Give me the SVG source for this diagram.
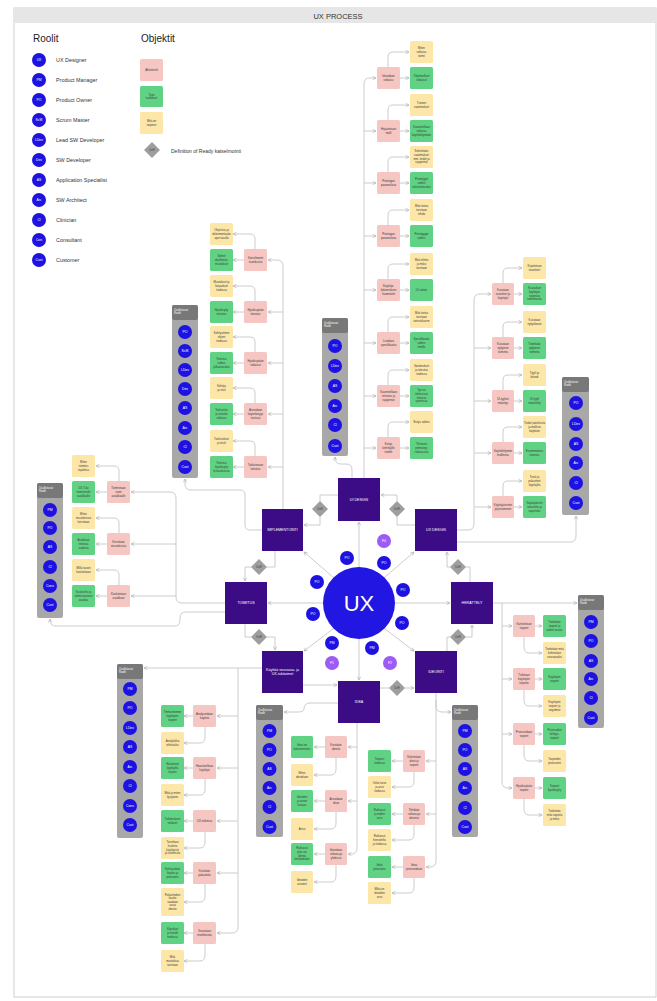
<svg xmlns="http://www.w3.org/2000/svg" width="657" height="1001" viewBox="0 0 657 1001">
<style>
text{font-family:"Liberation Sans",Arial,sans-serif}
.pk{fill:#f5c6c2}.gr{fill:#5fd383}.ye{fill:#fde7a8}
.bt{font-size:2.8px;fill:#3a3a3a;text-anchor:middle}
.ln{fill:none;stroke:#c6c6c6;stroke-width:0.9}
.a{marker-end:url(#ah)}
.ph{fill:#3c0b86}
.pt{font-size:3.6px;fill:#fff;text-anchor:middle}
.rc{fill:#1d12e2}
.fc{fill:#9d5cf3}
.rt{font-size:3.4px;fill:#fff;text-anchor:middle}
.pn{fill:#a8a8a8}
.phd{fill:#787878}
.ht{font-size:2.7px;fill:#fff}
.dm{fill:#9e9e9e}
.dt{font-size:2.8px;fill:#444;text-anchor:middle}
.lg{font-size:5.4px;fill:#333}
</style>
<defs>
<marker id="ah" viewBox="0 0 8 8" refX="7" refY="4" markerWidth="4.5" markerHeight="4.5" orient="auto" markerUnits="userSpaceOnUse"><path d="M1,1 L7,4 L1,7" fill="none" stroke="#b0b0b0" stroke-width="1.2"/></marker>
</defs>
<rect x="0" y="0" width="657" height="1001" fill="#fff"/>
<rect x="14" y="8" width="642" height="989" fill="#fff" stroke="#cfcfcf" stroke-width="1"/>
<rect x="14" y="8" width="642" height="15" fill="#e6e6e6"/>
<text x="338" y="18.5" font-size="7.5" fill="#333" text-anchor="middle">UX PROCESS</text>

<g id="legend">
<text x="33" y="42" font-size="10" fill="#222">Roolit</text>
<text x="141" y="42" font-size="10" fill="#222">Objektit</text>
<circle class="rc" cx="39" cy="60" r="7"/><text class="rt" x="39" y="61.2">UX</text><text class="lg" x="56" y="62">UX Designer</text>
<circle class="rc" cx="39" cy="80" r="7"/><text class="rt" x="39" y="81.2">PM</text><text class="lg" x="56" y="82">Product Manager</text>
<circle class="rc" cx="39" cy="100" r="7"/><text class="rt" x="39" y="101.2">PO</text><text class="lg" x="56" y="102">Product Owner</text>
<circle class="rc" cx="39" cy="120" r="7"/><text class="rt" x="39" y="121.2">ScM</text><text class="lg" x="56" y="122">Scrum Master</text>
<circle class="rc" cx="39" cy="140" r="7"/><text class="rt" x="39" y="141.2">LDev</text><text class="lg" x="56" y="142">Lead SW Developer</text>
<circle class="rc" cx="39" cy="160" r="7"/><text class="rt" x="39" y="161.2">Dev</text><text class="lg" x="56" y="162">SW Developer</text>
<circle class="rc" cx="39" cy="180" r="7"/><text class="rt" x="39" y="181.2">AS</text><text class="lg" x="56" y="182">Application Specialist</text>
<circle class="rc" cx="39" cy="200" r="7"/><text class="rt" x="39" y="201.2">Arc</text><text class="lg" x="56" y="202">SW Architect</text>
<circle class="rc" cx="39" cy="220" r="7"/><text class="rt" x="39" y="221.2">Cl</text><text class="lg" x="56" y="222">Clinician</text>
<circle class="rc" cx="39" cy="240" r="7"/><text class="rt" x="39" y="241.2">Con</text><text class="lg" x="56" y="242">Consultant</text>
<circle class="rc" cx="39" cy="260" r="7"/><text class="rt" x="39" y="261.2">Cust</text><text class="lg" x="56" y="262">Customer</text>
<rect class="pk" x="140" y="59" width="23" height="22" rx="1.5"/><text class="bt" x="151.5" y="71">Aktiviteetti</text>
<rect class="gr" x="140" y="86" width="23" height="21" rx="1.5"/><text class="bt" x="151.5" y="95.5">Työn<tspan x="151.5" dy="3.6">tuotokset</tspan></text>
<rect class="ye" x="140" y="112" width="23" height="22" rx="1.5"/><text class="bt" x="151.5" y="122">Mitä on<tspan x="151.5" dy="3.6">tarpeen</tspan></text>
<polygon class="dm" points="152,142 160,150 152,158 144,150"/><text class="dt" x="152" y="151">DoR</text>
<text x="171" y="152.5" font-size="5" fill="#333">Definition of Ready katselmointi</text>
</g>

<g id="connectors">
<!-- radial -->
<path class="ln a" d="M359,567 V522"/>
<path class="ln a" d="M384.5,577.5 L414,552"/>
<path class="ln a" d="M333.5,577.5 L304,552"/>
<path class="ln a" d="M323,603 H268"/>
<path class="ln a" d="M395,603 H450"/>
<path class="ln a" d="M333.5,628.5 L304,651"/>
<path class="ln a" d="M384.5,628.5 L414,651"/>
<path class="ln a" d="M359,639 V680"/>
<!-- phase flow via DoR -->
<path class="ln" d="M470,582 V567 H466"/><path class="ln a" d="M450,567 H447 V552"/>
<path class="ln" d="M415,525 H397 V517"/><path class="ln a" d="M397,501 V495 H381"/>
<path class="ln" d="M338,495 H320 V501"/><path class="ln a" d="M320,517 V525 H304"/>
<path class="ln" d="M275,551 V567 H267"/><path class="ln a" d="M251,567 H245 V581"/>
<path class="ln" d="M245,624 V637 H251"/><path class="ln a" d="M267,637 H275 V650"/>
<path class="ln a" d="M303,685 H337"/>
<path class="ln" d="M380,688 H389"/><path class="ln a" d="M405,688 H414"/>
<path class="ln" d="M447,651 V637 H450"/><path class="ln a" d="M466,637 H472 V625"/>
<!-- UI DESIGN -->
<path class="ln a" d="M352,478 V470 Q352,464 346,464 H341 Q335,464 335,458 V457"/>
<path class="ln a" d="M364,478 V84 Q364,78 370,78 H376"/>
<path class="ln a" d="M364,131 H376"/><path class="ln a" d="M364,183 H376"/><path class="ln a" d="M364,236 H376"/><path class="ln a" d="M364,290 H376"/><path class="ln a" d="M364,343 H376"/><path class="ln a" d="M364,396 H376"/><path class="ln a" d="M364,448 H376"/>
<path class="ln a" d="M400,78 H409"/><path class="ln a" d="M400,131 H409"/><path class="ln a" d="M400,183 H409"/><path class="ln a" d="M400,236 H409"/><path class="ln a" d="M400,290 H409"/><path class="ln a" d="M400,343 H409"/><path class="ln a" d="M400,396 H409"/><path class="ln a" d="M400,448 H409"/>
<path class="ln a" d="M388,67 V57 Q388,52 393,52 H409"/><path class="ln a" d="M388,120 V110 Q388,105 393,105 H409"/><path class="ln a" d="M388,172 V162 Q388,157 393,157 H409"/><path class="ln a" d="M388,225 V215 Q388,210 393,210 H409"/><path class="ln a" d="M388,279 V269 Q388,264 393,264 H409"/><path class="ln a" d="M388,332 V322 Q388,317 393,317 H409"/><path class="ln a" d="M388,385 V375 Q388,370 393,370 H409"/><path class="ln a" d="M388,437 V427 Q388,422 393,422 H409"/>
<!-- UX DESIGN -->
<path class="ln a" d="M457,530 H468 Q474,530 474,524 V300 Q474,294 480,294 H491"/>
<path class="ln a" d="M474,348 H491"/><path class="ln a" d="M474,401 H491"/><path class="ln a" d="M474,453 H491"/><path class="ln a" d="M474,507 H491"/>
<path class="ln a" d="M457,542 H570 Q576,542 576,536 V516"/>
<path class="ln a" d="M514,294 H522"/><path class="ln a" d="M514,348 H522"/><path class="ln a" d="M514,401 H522"/><path class="ln a" d="M514,453 H522"/><path class="ln a" d="M514,507 H522"/>
<path class="ln a" d="M503,283 V273 Q503,268 508,268 H522"/><path class="ln a" d="M503,337 V327 Q503,322 508,322 H522"/><path class="ln a" d="M503,390 V380 Q503,375 508,375 H522"/><path class="ln a" d="M503,442 V432 Q503,427 508,427 H522"/><path class="ln a" d="M503,496 V486 Q503,481 508,481 H522"/>
<!-- IMPLEMENTOINTI -->
<path class="ln a" d="M283,509 V266 Q283,260 277,260 H268"/>
<path class="ln a" d="M283,312 H268"/><path class="ln a" d="M283,363 H268"/><path class="ln a" d="M283,414 H268"/><path class="ln a" d="M283,467 H268"/>
<path class="ln a" d="M262,530 H250 Q245,530 245,525 V495 Q245,490 240,490 H191 Q185,490 185,484 V479"/>
<path class="ln a" d="M244,260 H233"/><path class="ln a" d="M244,312 H233"/><path class="ln a" d="M244,363 H233"/><path class="ln a" d="M244,414 H233"/><path class="ln a" d="M244,467 H233"/>
<path class="ln a" d="M255,249 V239 Q255,234 250,234 H233"/><path class="ln a" d="M255,301 V291 Q255,286 250,286 H233"/><path class="ln a" d="M255,352 V342 Q255,337 250,337 H233"/><path class="ln a" d="M255,403 V393 Q255,388 250,388 H233"/><path class="ln a" d="M255,456 V446 Q255,441 250,441 H233"/>
<!-- TOIMITUS -->
<path class="ln a" d="M225,603 H182 Q176,603 176,597 V498 Q176,492 170,492 H131"/>
<path class="ln a" d="M176,544 H131"/><path class="ln a" d="M176,596 H131"/>
<path class="ln a" d="M225,612 H186 Q180,612 180,618 V620 Q180,626 174,626 H56 Q50,626 50,620 V619"/>
<path class="ln a" d="M107,492 H96"/><path class="ln a" d="M107,544 H96"/><path class="ln a" d="M107,596 H96"/>
<path class="ln a" d="M119,481 V471 Q119,466 114,466 H96"/><path class="ln a" d="M119,533 V523 Q119,518 114,518 H96"/><path class="ln a" d="M119,585 V575 Q119,570 114,570 H96"/>
<!-- KAYTTO -->
<path class="ln a" d="M262,668 H144"/>
<path class="ln a" d="M238,668 V927 Q238,933 232,933 H217"/>
<path class="ln a" d="M238,716 H217"/><path class="ln a" d="M238,768 H217"/><path class="ln a" d="M238,821 H217"/><path class="ln a" d="M238,873 H217"/>
<path class="ln a" d="M193,716 H184"/><path class="ln a" d="M193,768 H184"/><path class="ln a" d="M193,821 H184"/><path class="ln a" d="M193,873 H184"/><path class="ln a" d="M193,933 H184"/>
<path class="ln a" d="M205,727 V737 Q205,743 200,743 H184"/><path class="ln a" d="M205,779 V789 Q205,795 200,795 H184"/><path class="ln a" d="M205,832 V842 Q205,848 200,848 H184"/><path class="ln a" d="M205,884 V896 Q205,902 200,902 H184"/><path class="ln a" d="M205,944 V955 Q205,961 200,961 H184"/>
<!-- IDEA -->
<path class="ln a" d="M357,723 V848 Q357,854 351,854 H348"/>
<path class="ln a" d="M357,747 H348"/><path class="ln a" d="M357,801 H348"/>
<path class="ln a" d="M338,703 H310 Q304,703 304,709 Q304,712 298,712 H284"/>
<path class="ln a" d="M325,747 H314"/><path class="ln a" d="M325,801 H314"/><path class="ln a" d="M325,854 H314"/>
<path class="ln a" d="M336,758 V769 Q336,775 331,775 H314"/><path class="ln a" d="M336,812 V823 Q336,829 331,829 H314"/><path class="ln a" d="M336,865 V876 Q336,882 331,882 H314"/>
<!-- IDEOINTI -->
<path class="ln a" d="M436,693 V861 Q436,867 430,867 H426"/>
<path class="ln a" d="M436,761 H426"/><path class="ln a" d="M436,814 H426"/>
<path class="ln a" d="M436,700 V706 Q436,712 442,712 H451"/>
<path class="ln a" d="M403,761 H392"/><path class="ln a" d="M403,814 H392"/><path class="ln a" d="M403,867 H392"/>
<path class="ln a" d="M414,772 V781 Q414,787 409,787 H392"/><path class="ln a" d="M414,825 V834 Q414,840 409,840 H392"/><path class="ln a" d="M414,878 V887 Q414,893 409,893 H392"/>
<!-- HERATTELY -->
<path class="ln a" d="M493,603 H577"/>
<path class="ln a" d="M502,603 V782 Q502,788 508,788 H512"/>
<path class="ln a" d="M502,626 H512"/><path class="ln a" d="M502,679 H512"/><path class="ln a" d="M502,734 H512"/>
<path class="ln a" d="M535,626 H542"/><path class="ln a" d="M535,679 H542"/><path class="ln a" d="M535,734 H542"/><path class="ln a" d="M535,788 H542"/>
<path class="ln a" d="M524,637 V647 Q524,653 529,653 H542"/><path class="ln a" d="M524,690 V700 Q524,706 529,706 H542"/><path class="ln a" d="M524,745 V755 Q524,761 529,761 H542"/><path class="ln a" d="M524,799 V809 Q524,815 529,815 H542"/>
</g>

<g id="dor-gates">
<polygon class="dm" points="397,501 405,509 397,517 389,509"/><text class="dt" x="397" y="510">DoR</text>
<polygon class="dm" points="320,501 328,509 320,517 312,509"/><text class="dt" x="320" y="510">DoR</text>
<polygon class="dm" points="259,559 267,567 259,575 251,567"/><text class="dt" x="259" y="568">DoR</text>
<polygon class="dm" points="458,559 466,567 458,575 450,567"/><text class="dt" x="458" y="568">DoR</text>
<polygon class="dm" points="259,629 267,637 259,645 251,637"/><text class="dt" x="259" y="638">DoR</text>
<polygon class="dm" points="458,629 466,637 458,645 450,637"/><text class="dt" x="458" y="638">DoR</text>
<polygon class="dm" points="397,680 405,688 397,696 389,688"/><text class="dt" x="397" y="689">DoR</text>
</g>

<g id="ux-core">
<circle cx="359" cy="603" r="36" fill="#2216e2"/>
<text x="359" y="611" font-size="22" fill="#fff" text-anchor="middle">UX</text>
<circle class="rc" cx="347" cy="558" r="7"/><text class="rt" x="347" y="559.2">PO</text>
<circle class="rc" cx="384" cy="563" r="7"/><text class="rt" x="384" y="564.2">PO</text>
<circle class="rc" cx="317" cy="582" r="7"/><text class="rt" x="317" y="583.2">PO</text>
<circle class="rc" cx="403" cy="590" r="7"/><text class="rt" x="403" y="591.2">PO</text>
<circle class="rc" cx="313" cy="614" r="7"/><text class="rt" x="313" y="615.2">PO</text>
<circle class="rc" cx="402" cy="623" r="7"/><text class="rt" x="402" y="624.2">PO</text>
<circle class="rc" cx="332" cy="643" r="7"/><text class="rt" x="332" y="644.2">PM</text>
<circle class="rc" cx="372" cy="648" r="7"/><text class="rt" x="372" y="649.2">PM</text>
<circle class="fc" cx="384" cy="541" r="7"/><text class="rt" x="384" y="542.2">F4</text>
<circle class="fc" cx="332" cy="663" r="7"/><text class="rt" x="332" y="664.2">F1</text>
<circle class="fc" cx="390" cy="663" r="7"/><text class="rt" x="390" y="664.2">F2</text>
</g>

<g id="phase-ui-design"><rect class="ph" x="338" y="478" width="42" height="43"/><text class="pt" x="359" y="500.5">UI DESIGN</text></g>
<g id="phase-implementointi"><rect class="ph" x="262" y="509" width="41" height="42"/><text class="pt" x="282.5" y="531">IMPLEMENTOINTI</text></g>
<g id="phase-ux-design"><rect class="ph" x="415" y="509" width="42" height="42"/><text class="pt" x="436" y="531">UX DESIGN</text></g>
<g id="phase-toimitus"><rect class="ph" x="225" y="582" width="42" height="42"/><text class="pt" x="246" y="604">TOIMITUS</text></g>
<g id="phase-herattely"><rect class="ph" x="451" y="582" width="42" height="42"/><text class="pt" x="472" y="604">HERÄTTELY</text></g>
<g id="phase-kaytto"><rect class="ph" x="262" y="651" width="41" height="42"/><text class="pt" x="282.5" y="671">Käyttöä seuraava- ja<tspan x="282.5" dy="4.4">UX-tukitoimet</tspan></text></g>
<g id="phase-ideointi"><rect class="ph" x="415" y="651" width="42" height="42"/><text class="pt" x="436" y="673">IDEOINTI</text></g>
<g id="phase-idea"><rect class="ph" x="338" y="681" width="42" height="42"/><text class="pt" x="359" y="703">IDEA</text></g>

<g id="roles-ui-design">
<rect class="pn" x="322" y="318" width="26" height="138" rx="2"/><rect class="phd" x="322" y="318" width="26" height="15" rx="2"/>
<text class="ht" x="324" y="324">Osallistuvat<tspan x="324" dy="3.4">Roolit</tspan></text>
<circle class="rc" cx="335" cy="346" r="7"/><text class="rt" x="335" y="347.2">PO</text>
<circle class="rc" cx="335" cy="366" r="7"/><text class="rt" x="335" y="367.2">LDev</text>
<circle class="rc" cx="335" cy="386" r="7"/><text class="rt" x="335" y="387.2">AS</text>
<circle class="rc" cx="335" cy="406" r="7"/><text class="rt" x="335" y="407.2">Arc</text>
<circle class="rc" cx="335" cy="425" r="7"/><text class="rt" x="335" y="426.2">Cl</text>
<circle class="rc" cx="335" cy="446" r="7"/><text class="rt" x="335" y="447.2">Cust</text>
</g>
<g id="roles-ux-design">
<rect class="pn" x="562" y="377" width="27" height="138" rx="2"/><rect class="phd" x="562" y="377" width="27" height="15" rx="2"/>
<text class="ht" x="564" y="383">Osallistuvat<tspan x="564" dy="3.4">Roolit</tspan></text>
<circle class="rc" cx="576" cy="403" r="7"/><text class="rt" x="576" y="404.2">PO</text>
<circle class="rc" cx="576" cy="424" r="7"/><text class="rt" x="576" y="425.2">LDev</text>
<circle class="rc" cx="576" cy="444" r="7"/><text class="rt" x="576" y="445.2">AS</text>
<circle class="rc" cx="576" cy="463" r="7"/><text class="rt" x="576" y="464.2">Arc</text>
<circle class="rc" cx="576" cy="483" r="7"/><text class="rt" x="576" y="484.2">Cl</text>
<circle class="rc" cx="576" cy="503" r="7"/><text class="rt" x="576" y="504.2">Cust</text>
</g>
<g id="roles-implementointi">
<rect class="pn" x="172" y="305" width="26" height="173" rx="2"/><rect class="phd" x="172" y="305" width="26" height="15" rx="2"/>
<text class="ht" x="174" y="311">Osallistuvat<tspan x="174" dy="3.4">Roolit</tspan></text>
<circle class="rc" cx="185" cy="332" r="7"/><text class="rt" x="185" y="333.2">PO</text>
<circle class="rc" cx="185" cy="351" r="7"/><text class="rt" x="185" y="352.2">ScM</text>
<circle class="rc" cx="185" cy="370" r="7"/><text class="rt" x="185" y="371.2">LDev</text>
<circle class="rc" cx="185" cy="389" r="7"/><text class="rt" x="185" y="390.2">Dev</text>
<circle class="rc" cx="185" cy="408" r="7"/><text class="rt" x="185" y="409.2">AS</text>
<circle class="rc" cx="185" cy="428" r="7"/><text class="rt" x="185" y="429.2">Arc</text>
<circle class="rc" cx="185" cy="447" r="7"/><text class="rt" x="185" y="448.2">Cl</text>
<circle class="rc" cx="185" cy="467" r="7"/><text class="rt" x="185" y="468.2">Cust</text>
</g>
<g id="roles-toimitus">
<rect class="pn" x="37" y="483" width="26" height="135" rx="2"/><rect class="phd" x="37" y="483" width="26" height="15" rx="2"/>
<text class="ht" x="39" y="489">Osallistuvat<tspan x="39" dy="3.4">Roolit</tspan></text>
<circle class="rc" cx="50" cy="510" r="7"/><text class="rt" x="50" y="511.2">PM</text>
<circle class="rc" cx="50" cy="528" r="7"/><text class="rt" x="50" y="529.2">PO</text>
<circle class="rc" cx="50" cy="547" r="7"/><text class="rt" x="50" y="548.2">AS</text>
<circle class="rc" cx="50" cy="567" r="7"/><text class="rt" x="50" y="568.2">Cl</text>
<circle class="rc" cx="50" cy="586" r="7"/><text class="rt" x="50" y="587.2">Cons</text>
<circle class="rc" cx="50" cy="605" r="7"/><text class="rt" x="50" y="606.2">Cust</text>
</g>
<g id="roles-kaytto">
<rect class="pn" x="117" y="664" width="26" height="174" rx="2"/><rect class="phd" x="117" y="664" width="26" height="15" rx="2"/>
<text class="ht" x="119" y="670">Osallistuvat<tspan x="119" dy="3.4">Roolit</tspan></text>
<circle class="rc" cx="130" cy="689" r="7"/><text class="rt" x="130" y="690.2">PM</text>
<circle class="rc" cx="130" cy="708" r="7"/><text class="rt" x="130" y="709.2">PO</text>
<circle class="rc" cx="130" cy="728" r="7"/><text class="rt" x="130" y="729.2">LDev</text>
<circle class="rc" cx="130" cy="747" r="7"/><text class="rt" x="130" y="748.2">AS</text>
<circle class="rc" cx="130" cy="767" r="7"/><text class="rt" x="130" y="768.2">Arc</text>
<circle class="rc" cx="130" cy="786" r="7"/><text class="rt" x="130" y="787.2">Cl</text>
<circle class="rc" cx="130" cy="806" r="7"/><text class="rt" x="130" y="807.2">Cons</text>
<circle class="rc" cx="130" cy="825" r="7"/><text class="rt" x="130" y="826.2">Cust</text>
</g>
<g id="roles-idea">
<rect class="pn" x="256" y="705" width="27" height="132" rx="2"/><rect class="phd" x="256" y="705" width="27" height="15" rx="2"/>
<text class="ht" x="258" y="711">Osallistuvat<tspan x="258" dy="3.4">Roolit</tspan></text>
<circle class="rc" cx="269.5" cy="731" r="7"/><text class="rt" x="269.5" y="732.2">PM</text>
<circle class="rc" cx="269.5" cy="750" r="7"/><text class="rt" x="269.5" y="751.2">PO</text>
<circle class="rc" cx="269.5" cy="769" r="7"/><text class="rt" x="269.5" y="770.2">AS</text>
<circle class="rc" cx="269.5" cy="788" r="7"/><text class="rt" x="269.5" y="789.2">Arc</text>
<circle class="rc" cx="269.5" cy="807" r="7"/><text class="rt" x="269.5" y="808.2">Cl</text>
<circle class="rc" cx="269.5" cy="827" r="7"/><text class="rt" x="269.5" y="828.2">Cust</text>
</g>
<g id="roles-ideointi">
<rect class="pn" x="452" y="705" width="26" height="132" rx="2"/><rect class="phd" x="452" y="705" width="26" height="15" rx="2"/>
<text class="ht" x="454" y="711">Osallistuvat<tspan x="454" dy="3.4">Roolit</tspan></text>
<circle class="rc" cx="465" cy="731" r="7"/><text class="rt" x="465" y="732.2">PM</text>
<circle class="rc" cx="465" cy="750" r="7"/><text class="rt" x="465" y="751.2">PO</text>
<circle class="rc" cx="465" cy="769" r="7"/><text class="rt" x="465" y="770.2">AS</text>
<circle class="rc" cx="465" cy="788" r="7"/><text class="rt" x="465" y="789.2">Arc</text>
<circle class="rc" cx="465" cy="808" r="7"/><text class="rt" x="465" y="809.2">Cl</text>
<circle class="rc" cx="465" cy="827" r="7"/><text class="rt" x="465" y="828.2">Cust</text>
</g>
<g id="roles-herattely">
<rect class="pn" x="578" y="595" width="26" height="133" rx="2"/><rect class="phd" x="578" y="595" width="26" height="15" rx="2"/>
<text class="ht" x="580" y="601">Osallistuvat<tspan x="580" dy="3.4">Roolit</tspan></text>
<circle class="rc" cx="591" cy="622" r="7"/><text class="rt" x="591" y="623.2">PM</text>
<circle class="rc" cx="591" cy="641" r="7"/><text class="rt" x="591" y="642.2">PO</text>
<circle class="rc" cx="591" cy="661" r="7"/><text class="rt" x="591" y="662.2">AS</text>
<circle class="rc" cx="591" cy="679" r="7"/><text class="rt" x="591" y="680.2">Arc</text>
<circle class="rc" cx="591" cy="698" r="7"/><text class="rt" x="591" y="699.2">Cl</text>
<circle class="rc" cx="591" cy="718" r="7"/><text class="rt" x="591" y="719.2">Cust</text>
</g>

<g id="tasks-ui-design">
<rect class="pk" x="377" y="67" width="23" height="22" rx="1.5"/><text class="bt" x="388.5" y="77.2">Ideoidaan<tspan x="388.5" dy="3.6">ratkaisu</tspan></text>
<rect class="gr" x="410" y="67" width="23" height="22" rx="1.5"/><text class="bt" x="421.5" y="77.2">Ohjelmalliset<tspan x="421.5" dy="3.6">ratkaisut</tspan></text>
<rect class="ye" x="410" y="41" width="23" height="22" rx="1.5"/><text class="bt" x="421.5" y="49.3">Miten<tspan x="421.5" dy="3.6">ratkaisu</tspan><tspan x="421.5" dy="3.6">toimii</tspan></text>
<rect class="pk" x="377" y="120" width="23" height="22" rx="1.5"/><text class="bt" x="388.5" y="130.2">Hajautetaan<tspan x="388.5" dy="3.6">malli</tspan></text>
<rect class="gr" x="410" y="120" width="23" height="22" rx="1.5"/><text class="bt" x="421.5" y="128.3">Suunnitellaan<tspan x="421.5" dy="3.6">ratkaisu</tspan><tspan x="421.5" dy="3.6">käyttöliittymään</tspan></text>
<rect class="ye" x="410" y="94" width="23" height="22" rx="1.5"/><text class="bt" x="421.5" y="104.2">Tunnen<tspan x="421.5" dy="3.6">vaatimukset</tspan></text>
<rect class="pk" x="377" y="172" width="23" height="22" rx="1.5"/><text class="bt" x="388.5" y="182.2">Prototypoi<tspan x="388.5" dy="3.6">parannuksia</tspan></text>
<rect class="gr" x="410" y="172" width="23" height="22" rx="1.5"/><text class="bt" x="421.5" y="180.3">Prototyypit<tspan x="421.5" dy="3.6">valmiit</tspan><tspan x="421.5" dy="3.6">tarkistettavaksi</tspan></text>
<rect class="ye" x="410" y="146" width="23" height="22" rx="1.5"/><text class="bt" x="421.5" y="152.4">Selvitetään<tspan x="421.5" dy="3.6">vaatimukset</tspan><tspan x="421.5" dy="3.6">mm. tiedot ja</tspan><tspan x="421.5" dy="3.6">rajapinnat</tspan></text>
<rect class="pk" x="377" y="225" width="23" height="22" rx="1.5"/><text class="bt" x="388.5" y="235.2">Prototypoi<tspan x="388.5" dy="3.6">parannuksia</tspan></text>
<rect class="gr" x="410" y="225" width="23" height="22" rx="1.5"/><text class="bt" x="421.5" y="235.2">Prototyyppi<tspan x="421.5" dy="3.6">valmis</tspan></text>
<rect class="ye" x="410" y="199" width="23" height="22" rx="1.5"/><text class="bt" x="421.5" y="207.3">Mitä tietoa<tspan x="421.5" dy="3.6">tarvitaan</tspan><tspan x="421.5" dy="3.6">tehdä</tspan></text>
<rect class="pk" x="377" y="279" width="23" height="22" rx="1.5"/><text class="bt" x="388.5" y="287.3">Käyttäjä-<tspan x="388.5" dy="3.6">kokemuksen</tspan><tspan x="388.5" dy="3.6">huomiointi</tspan></text>
<rect class="gr" x="410" y="279" width="23" height="22" rx="1.5"/><text class="bt" x="421.5" y="291.1">UI valmis</text>
<rect class="ye" x="410" y="253" width="23" height="22" rx="1.5"/><text class="bt" x="421.5" y="261.3">Mitä tehtiin<tspan x="421.5" dy="3.6">ja miksi</tspan><tspan x="421.5" dy="3.6">tarvitaan</tspan></text>
<rect class="pk" x="377" y="332" width="23" height="22" rx="1.5"/><text class="bt" x="388.5" y="342.2">Luodaan<tspan x="388.5" dy="3.6">spesifikaatio</tspan></text>
<rect class="gr" x="410" y="332" width="23" height="22" rx="1.5"/><text class="bt" x="421.5" y="340.3">Spesifikaatio<tspan x="421.5" dy="3.6">valmis</tspan><tspan x="421.5" dy="3.6">tiimille</tspan></text>
<rect class="ye" x="410" y="306" width="23" height="22" rx="1.5"/><text class="bt" x="421.5" y="314.3">Mitä tietoa<tspan x="421.5" dy="3.6">tarvitaan</tspan><tspan x="421.5" dy="3.6">toteutukseen</tspan></text>
<rect class="pk" x="377" y="385" width="23" height="22" rx="1.5"/><text class="bt" x="388.5" y="393.3">Suunnitellaan<tspan x="388.5" dy="3.6">toteutus ja</tspan><tspan x="388.5" dy="3.6">rajapinnat</tspan></text>
<rect class="gr" x="410" y="385" width="23" height="22" rx="1.5"/><text class="bt" x="421.5" y="391.4">Työ on<tspan x="421.5" dy="3.6">tehtävissä</tspan><tspan x="421.5" dy="3.6">tiimissä</tspan><tspan x="421.5" dy="3.6">sprintissä</tspan></text>
<rect class="ye" x="410" y="359" width="23" height="22" rx="1.5"/><text class="bt" x="421.5" y="367.3">Vaatimukset<tspan x="421.5" dy="3.6">ja toteutus</tspan><tspan x="421.5" dy="3.6">tiedossa</tspan></text>
<rect class="pk" x="377" y="437" width="23" height="22" rx="1.5"/><text class="bt" x="388.5" y="445.3">Esitys<tspan x="388.5" dy="3.6">kehittäjille</tspan><tspan x="388.5" dy="3.6">tiimille</tspan></text>
<rect class="gr" x="410" y="437" width="23" height="22" rx="1.5"/><text class="bt" x="421.5" y="445.3">Yhteinen<tspan x="421.5" dy="3.6">ymmärrys</tspan><tspan x="421.5" dy="3.6">ratkaisusta</tspan></text>
<rect class="ye" x="410" y="411" width="23" height="22" rx="1.5"/><text class="bt" x="421.5" y="423.1">Esitys valmis</text>
</g>

<g id="tasks-ux-design">
<rect class="pk" x="492" y="283" width="22" height="22" rx="1.5"/><text class="bt" x="503" y="291.3">Kuvataan<tspan x="503" dy="3.6">tavoitteet ja</tspan><tspan x="503" dy="3.6">käyttäjät</tspan></text>
<rect class="gr" x="523" y="283" width="23" height="22" rx="1.5"/><text class="bt" x="534.5" y="289.4">Kuvaukset<tspan x="534.5" dy="3.6">käyttäjän</tspan><tspan x="534.5" dy="3.6">tarpeista</tspan><tspan x="534.5" dy="3.6">toiminnasta</tspan></text>
<rect class="ye" x="523" y="257" width="23" height="22" rx="1.5"/><text class="bt" x="534.5" y="267.2">Kirjoitetaan<tspan x="534.5" dy="3.6">tavoitteet</tspan></text>
<rect class="pk" x="492" y="337" width="22" height="22" rx="1.5"/><text class="bt" x="503" y="345.3">Kuvataan<tspan x="503" dy="3.6">nykyinen</tspan><tspan x="503" dy="3.6">toiminta</tspan></text>
<rect class="gr" x="523" y="337" width="23" height="22" rx="1.5"/><text class="bt" x="534.5" y="345.3">Tiedetään<tspan x="534.5" dy="3.6">nykyinen</tspan><tspan x="534.5" dy="3.6">toiminta</tspan></text>
<rect class="ye" x="523" y="311" width="23" height="22" rx="1.5"/><text class="bt" x="534.5" y="321.2">Kuvataan<tspan x="534.5" dy="3.6">nykytilanne</tspan></text>
<rect class="pk" x="492" y="390" width="22" height="22" rx="1.5"/><text class="bt" x="503" y="400.2">UI-tyylien<tspan x="503" dy="3.6">määritys</tspan></text>
<rect class="gr" x="523" y="390" width="23" height="22" rx="1.5"/><text class="bt" x="534.5" y="400.2">UI tyylit<tspan x="534.5" dy="3.6">määritelty</tspan></text>
<rect class="ye" x="523" y="364" width="23" height="22" rx="1.5"/><text class="bt" x="534.5" y="374.2">Tyylit ja<tspan x="534.5" dy="3.6">brändi</tspan></text>
<rect class="pk" x="492" y="442" width="22" height="22" rx="1.5"/><text class="bt" x="503" y="452.2">Käyttöliittymän<tspan x="503" dy="3.6">mallinnus</tspan></text>
<rect class="gr" x="523" y="442" width="23" height="22" rx="1.5"/><text class="bt" x="534.5" y="452.2">Ensimmäinen<tspan x="534.5" dy="3.6">luonnos</tspan></text>
<rect class="ye" x="523" y="416" width="23" height="22" rx="1.5"/><text class="bt" x="534.5" y="424.3">Tiedot palvelusta<tspan x="534.5" dy="3.6">ja mallista</tspan><tspan x="534.5" dy="3.6">käyttöön</tspan></text>
<rect class="pk" x="492" y="496" width="22" height="22" rx="1.5"/><text class="bt" x="503" y="506.2">Käyttäjätestien<tspan x="503" dy="3.6">järjestäminen</tspan></text>
<rect class="gr" x="523" y="496" width="23" height="22" rx="1.5"/><text class="bt" x="534.5" y="504.3">Käyttäjätestit<tspan x="534.5" dy="3.6">toteutettu ja</tspan><tspan x="534.5" dy="3.6">raportoitu</tspan></text>
<rect class="ye" x="523" y="470" width="23" height="22" rx="1.5"/><text class="bt" x="534.5" y="478.3">Testit ja<tspan x="534.5" dy="3.6">palautteet</tspan><tspan x="534.5" dy="3.6">käyttäjiltä</tspan></text>
</g>

<g id="tasks-implementointi">
<rect class="pk" x="244" y="249" width="23" height="22" rx="1.5"/><text class="bt" x="255.5" y="259.2">Katselmointi<tspan x="255.5" dy="3.6">tuotoksista</tspan></text>
<rect class="gr" x="210" y="249" width="23" height="22" rx="1.5"/><text class="bt" x="221.5" y="257.3">Valmiit<tspan x="221.5" dy="3.6">ohjelmisto-</tspan><tspan x="221.5" dy="3.6">muutokset</tspan></text>
<rect class="ye" x="210" y="223" width="23" height="22" rx="1.5"/><text class="bt" x="221.5" y="231.3">Ohjeistus ja<tspan x="221.5" dy="3.6">dokumentaatio</tspan><tspan x="221.5" dy="3.6">ajan tasalla</tspan></text>
<rect class="pk" x="244" y="301" width="23" height="22" rx="1.5"/><text class="bt" x="255.5" y="311.2">Hyväksytään<tspan x="255.5" dy="3.6">toteutus</tspan></text>
<rect class="gr" x="210" y="301" width="23" height="22" rx="1.5"/><text class="bt" x="221.5" y="311.2">Hyväksytty<tspan x="221.5" dy="3.6">toteutus</tspan></text>
<rect class="ye" x="210" y="275" width="23" height="22" rx="1.5"/><text class="bt" x="221.5" y="283.3">Muutokset ja<tspan x="221.5" dy="3.6">korjaukset</tspan><tspan x="221.5" dy="3.6">tiedossa</tspan></text>
<rect class="pk" x="244" y="352" width="23" height="22" rx="1.5"/><text class="bt" x="255.5" y="362.2">Hyväksytään<tspan x="255.5" dy="3.6">ratkaisut</tspan></text>
<rect class="gr" x="210" y="352" width="23" height="22" rx="1.5"/><text class="bt" x="221.5" y="360.3">Toteutus<tspan x="221.5" dy="3.6">valmis</tspan><tspan x="221.5" dy="3.6">julkaistavaksi</tspan></text>
<rect class="ye" x="210" y="326" width="23" height="22" rx="1.5"/><text class="bt" x="221.5" y="334.3">Kehitystiimin<tspan x="221.5" dy="3.6">ohjeet</tspan><tspan x="221.5" dy="3.6">tiedossa</tspan></text>
<rect class="pk" x="244" y="403" width="23" height="22" rx="1.5"/><text class="bt" x="255.5" y="411.3">Arvioidaan<tspan x="255.5" dy="3.6">käytettävyys</tspan><tspan x="255.5" dy="3.6">testissä</tspan></text>
<rect class="gr" x="210" y="403" width="23" height="22" rx="1.5"/><text class="bt" x="221.5" y="411.3">Tarkistettu<tspan x="221.5" dy="3.6">ja testattu</tspan><tspan x="221.5" dy="3.6">ratkaisu</tspan></text>
<rect class="ye" x="210" y="377" width="23" height="22" rx="1.5"/><text class="bt" x="221.5" y="387.2">Kehitys<tspan x="221.5" dy="3.6">ja testi</tspan></text>
<rect class="pk" x="244" y="456" width="23" height="22" rx="1.5"/><text class="bt" x="255.5" y="466.2">Tarkistetaan<tspan x="255.5" dy="3.6">toteutus</tspan></text>
<rect class="gr" x="210" y="456" width="23" height="22" rx="1.5"/><text class="bt" x="221.5" y="464.3">Toteutus<tspan x="221.5" dy="3.6">hyväksytty</tspan><tspan x="221.5" dy="3.6">testauksessa</tspan></text>
<rect class="ye" x="210" y="430" width="23" height="22" rx="1.5"/><text class="bt" x="221.5" y="440.2">Tarkistukset<tspan x="221.5" dy="3.6">ja testit</tspan></text>
</g>

<g id="tasks-toimitus">
<rect class="pk" x="107" y="481" width="23" height="22" rx="1.5"/><text class="bt" x="118.5" y="489.3">Toimitetaan<tspan x="118.5" dy="3.6">tuote</tspan><tspan x="118.5" dy="3.6">asiakkaalle</tspan></text>
<rect class="gr" x="72" y="481" width="23" height="22" rx="1.5"/><text class="bt" x="83.5" y="489.3">UX-Tuki<tspan x="83.5" dy="3.6">toimitetuille</tspan><tspan x="83.5" dy="3.6">asiakkaille</tspan></text>
<rect class="ye" x="72" y="455" width="23" height="22" rx="1.5"/><text class="bt" x="83.5" y="463.3">Miten<tspan x="83.5" dy="3.6">toimitus</tspan><tspan x="83.5" dy="3.6">tapahtuu</tspan></text>
<rect class="pk" x="107" y="533" width="23" height="22" rx="1.5"/><text class="bt" x="118.5" y="543.2">Kerrotaan<tspan x="118.5" dy="3.6">muutoksista</tspan></text>
<rect class="gr" x="72" y="533" width="23" height="22" rx="1.5"/><text class="bt" x="83.5" y="541.3">Asiakkaat<tspan x="83.5" dy="3.6">tietoisia</tspan><tspan x="83.5" dy="3.6">uudesta</tspan></text>
<rect class="ye" x="72" y="507" width="23" height="22" rx="1.5"/><text class="bt" x="83.5" y="515.3">Miten<tspan x="83.5" dy="3.6">muutoksista</tspan><tspan x="83.5" dy="3.6">kerrotaan</tspan></text>
<rect class="pk" x="107" y="585" width="23" height="22" rx="1.5"/><text class="bt" x="118.5" y="595.2">Koulutetaan<tspan x="118.5" dy="3.6">asiakkaat</tspan></text>
<rect class="gr" x="72" y="585" width="23" height="22" rx="1.5"/><text class="bt" x="83.5" y="593.3">Koulutettu ja<tspan x="83.5" dy="3.6">valmistautunut</tspan><tspan x="83.5" dy="3.6">asiakas</tspan></text>
<rect class="ye" x="72" y="559" width="23" height="22" rx="1.5"/><text class="bt" x="83.5" y="569.2">Millä tavoin<tspan x="83.5" dy="3.6">koulutetaan</tspan></text>
</g>

<g id="tasks-kaytto">
<rect class="pk" x="193" y="705" width="23" height="22" rx="1.5"/><text class="bt" x="204.5" y="715.2">Analysoidaan<tspan x="204.5" dy="3.6">käyttöä</tspan></text>
<rect class="gr" x="161" y="705" width="23" height="22" rx="1.5"/><text class="bt" x="172.5" y="713.3">Ymmärrämme<tspan x="172.5" dy="3.6">käyttäjien</tspan><tspan x="172.5" dy="3.6">tarpeet</tspan></text>
<rect class="ye" x="161" y="732" width="23" height="22" rx="1.5"/><text class="bt" x="172.5" y="742.2">Analytiikka<tspan x="172.5" dy="3.6">tehtäväksi</tspan></text>
<rect class="pk" x="193" y="757" width="23" height="22" rx="1.5"/><text class="bt" x="204.5" y="767.2">Haastatellaan<tspan x="204.5" dy="3.6">käyttäjiä</tspan></text>
<rect class="gr" x="161" y="757" width="23" height="22" rx="1.5"/><text class="bt" x="172.5" y="765.3">Havainnot<tspan x="172.5" dy="3.6">käyttäjiltä</tspan><tspan x="172.5" dy="3.6">kirjattu</tspan></text>
<rect class="ye" x="161" y="784" width="23" height="22" rx="1.5"/><text class="bt" x="172.5" y="794.2">Mitä ja miten<tspan x="172.5" dy="3.6">kysytään</tspan></text>
<rect class="pk" x="193" y="810" width="23" height="22" rx="1.5"/><text class="bt" x="204.5" y="822.1">UX-tutkimus</text>
<rect class="gr" x="161" y="810" width="23" height="22" rx="1.5"/><text class="bt" x="172.5" y="820.2">Tutkimuksen<tspan x="172.5" dy="3.6">tulokset</tspan></text>
<rect class="ye" x="161" y="837" width="23" height="22" rx="1.5"/><text class="bt" x="172.5" y="843.4">Tarvittava<tspan x="172.5" dy="3.6">lisätieto</tspan><tspan x="172.5" dy="3.6">käyttäjistä</tspan><tspan x="172.5" dy="3.6">ja tuotteesta</tspan></text>
<rect class="pk" x="193" y="862" width="23" height="22" rx="1.5"/><text class="bt" x="204.5" y="872.2">Kerätään<tspan x="204.5" dy="3.6">palautetta</tspan></text>
<rect class="gr" x="161" y="862" width="23" height="22" rx="1.5"/><text class="bt" x="172.5" y="870.3">Kehitysideat<tspan x="172.5" dy="3.6">kirjattu ja</tspan><tspan x="172.5" dy="3.6">priorisoitu</tspan></text>
<rect class="ye" x="161" y="888" width="23" height="28" rx="1.5"/><text class="bt" x="172.5" y="895.5">Palautteiden<tspan x="172.5" dy="3.6">kautta</tspan><tspan x="172.5" dy="3.6">saadaan</tspan><tspan x="172.5" dy="3.6">uusia</tspan><tspan x="172.5" dy="3.6">ideoita</tspan></text>
<rect class="pk" x="193" y="922" width="23" height="22" rx="1.5"/><text class="bt" x="204.5" y="932.2">Seurataan<tspan x="204.5" dy="3.6">markkinoita</tspan></text>
<rect class="gr" x="161" y="922" width="23" height="22" rx="1.5"/><text class="bt" x="172.5" y="930.3">Kilpailijat<tspan x="172.5" dy="3.6">ja trendit</tspan><tspan x="172.5" dy="3.6">tiedossa</tspan></text>
<rect class="ye" x="161" y="950" width="23" height="22" rx="1.5"/><text class="bt" x="172.5" y="958.3">Mitä<tspan x="172.5" dy="3.6">muutoksia</tspan><tspan x="172.5" dy="3.6">tarvitaan</tspan></text>
</g>

<g id="tasks-idea">
<rect class="pk" x="325" y="736" width="22" height="22" rx="1.5"/><text class="bt" x="336" y="746.2">Kerätään<tspan x="336" dy="3.6">ideoita</tspan></text>
<rect class="gr" x="291" y="736" width="22" height="22" rx="1.5"/><text class="bt" x="302" y="746.2">Ideat on<tspan x="302" dy="3.6">dokumentoitu</tspan></text>
<rect class="ye" x="291" y="764" width="22" height="22" rx="1.5"/><text class="bt" x="302" y="774.2">Miten<tspan x="302" dy="3.6">ideoidaan</tspan></text>
<rect class="pk" x="325" y="790" width="22" height="22" rx="1.5"/><text class="bt" x="336" y="800.2">Arvioidaan<tspan x="336" dy="3.6">ideat</tspan></text>
<rect class="gr" x="291" y="790" width="22" height="22" rx="1.5"/><text class="bt" x="302" y="798.3">Ideoiden<tspan x="302" dy="3.6">ja arvon</tspan><tspan x="302" dy="3.6">kuvaus</tspan></text>
<rect class="ye" x="291" y="818" width="22" height="22" rx="1.5"/><text class="bt" x="302" y="830.1">Arvio</text>
<rect class="pk" x="325" y="843" width="22" height="22" rx="1.5"/><text class="bt" x="336" y="851.3">Ideoidaan<tspan x="336" dy="3.6">ratkaisuja</tspan><tspan x="336" dy="3.6">yhdessä</tspan></text>
<rect class="gr" x="291" y="843" width="22" height="22" rx="1.5"/><text class="bt" x="302" y="849.4">Ratkaisut<tspan x="302" dy="3.6">joita voi</tspan><tspan x="302" dy="3.6">lähteä</tspan><tspan x="302" dy="3.6">kehittämään</tspan></text>
<rect class="ye" x="291" y="871" width="22" height="22" rx="1.5"/><text class="bt" x="302" y="881.2">Ideoiden<tspan x="302" dy="3.6">arviointi</tspan></text>
</g>

<g id="tasks-ideointi">
<rect class="pk" x="403" y="750" width="22" height="22" rx="1.5"/><text class="bt" x="414" y="758.3">Selvitetään<tspan x="414" dy="3.6">ideat ja</tspan><tspan x="414" dy="3.6">tarpeet</tspan></text>
<rect class="gr" x="368" y="750" width="23" height="22" rx="1.5"/><text class="bt" x="379.5" y="760.2">Tarpeet<tspan x="379.5" dy="3.6">tiedossa</tspan></text>
<rect class="ye" x="368" y="776" width="23" height="22" rx="1.5"/><text class="bt" x="379.5" y="784.3">Onko tarve<tspan x="379.5" dy="3.6">ja arvo</tspan><tspan x="379.5" dy="3.6">tiedossa</tspan></text>
<rect class="pk" x="403" y="803" width="22" height="22" rx="1.5"/><text class="bt" x="414" y="811.3">Tehdään<tspan x="414" dy="3.6">ratkaisuja</tspan><tspan x="414" dy="3.6">ideoista</tspan></text>
<rect class="gr" x="368" y="803" width="23" height="22" rx="1.5"/><text class="bt" x="379.5" y="811.3">Ratkaisut<tspan x="379.5" dy="3.6">ja niiden</tspan><tspan x="379.5" dy="3.6">arvo</tspan></text>
<rect class="ye" x="368" y="829" width="23" height="22" rx="1.5"/><text class="bt" x="379.5" y="837.3">Ratkaisut<tspan x="379.5" dy="3.6">hinnoiteltu</tspan><tspan x="379.5" dy="3.6">ja tiedossa</tspan></text>
<rect class="pk" x="403" y="856" width="22" height="22" rx="1.5"/><text class="bt" x="414" y="866.2">Ideat<tspan x="414" dy="3.6">priorisoidaan</tspan></text>
<rect class="gr" x="368" y="856" width="23" height="22" rx="1.5"/><text class="bt" x="379.5" y="866.2">Ideat<tspan x="379.5" dy="3.6">priorisoitu</tspan></text>
<rect class="ye" x="368" y="882" width="23" height="22" rx="1.5"/><text class="bt" x="379.5" y="890.3">Mikä on<tspan x="379.5" dy="3.6">ideoiden</tspan><tspan x="379.5" dy="3.6">arvo</tspan></text>
</g>

<g id="tasks-herattely">
<rect class="pk" x="513" y="615" width="22" height="22" rx="1.5"/><text class="bt" x="524" y="625.2">Kartoitetaan<tspan x="524" dy="3.6">tarpeet</tspan></text>
<rect class="gr" x="543" y="615" width="23" height="22" rx="1.5"/><text class="bt" x="554.5" y="623.3">Tiedetään<tspan x="554.5" dy="3.6">tarpeet ja</tspan><tspan x="554.5" dy="3.6">niiden tausta</tspan></text>
<rect class="ye" x="543" y="642" width="23" height="22" rx="1.5"/><text class="bt" x="554.5" y="650.3">Tiedetään mitä<tspan x="554.5" dy="3.6">kehitetään</tspan><tspan x="554.5" dy="3.6">seuraavaksi</tspan></text>
<rect class="pk" x="513" y="668" width="22" height="22" rx="1.5"/><text class="bt" x="524" y="676.3">Tutkitaan<tspan x="524" dy="3.6">käyttäjien</tspan><tspan x="524" dy="3.6">tarpeita</tspan></text>
<rect class="gr" x="543" y="668" width="23" height="22" rx="1.5"/><text class="bt" x="554.5" y="678.2">Käyttäjien<tspan x="554.5" dy="3.6">tarpeet</tspan></text>
<rect class="ye" x="543" y="695" width="23" height="22" rx="1.5"/><text class="bt" x="554.5" y="703.3">Käyttäjien<tspan x="554.5" dy="3.6">tarpeet ja</tspan><tspan x="554.5" dy="3.6">ongelmat</tspan></text>
<rect class="pk" x="513" y="723" width="22" height="22" rx="1.5"/><text class="bt" x="524" y="733.2">Priorisoidaan<tspan x="524" dy="3.6">tarpeet</tspan></text>
<rect class="gr" x="543" y="723" width="23" height="22" rx="1.5"/><text class="bt" x="554.5" y="731.3">Priorisoidut<tspan x="554.5" dy="3.6">kehitys-</tspan><tspan x="554.5" dy="3.6">tarpeet</tspan></text>
<rect class="ye" x="543" y="750" width="23" height="22" rx="1.5"/><text class="bt" x="554.5" y="760.2">Tarpeiden<tspan x="554.5" dy="3.6">priorisointi</tspan></text>
<rect class="pk" x="513" y="777" width="22" height="22" rx="1.5"/><text class="bt" x="524" y="787.2">Hyväksytään<tspan x="524" dy="3.6">tarpeet</tspan></text>
<rect class="gr" x="543" y="777" width="23" height="22" rx="1.5"/><text class="bt" x="554.5" y="787.2">Tarpeet<tspan x="554.5" dy="3.6">hyväksytty</tspan></text>
<rect class="ye" x="543" y="804" width="23" height="22" rx="1.5"/><text class="bt" x="554.5" y="812.3">Tiedetään<tspan x="554.5" dy="3.6">mitä tarpeita</tspan><tspan x="554.5" dy="3.6">ja miksi</tspan></text>
</g>
</svg>
